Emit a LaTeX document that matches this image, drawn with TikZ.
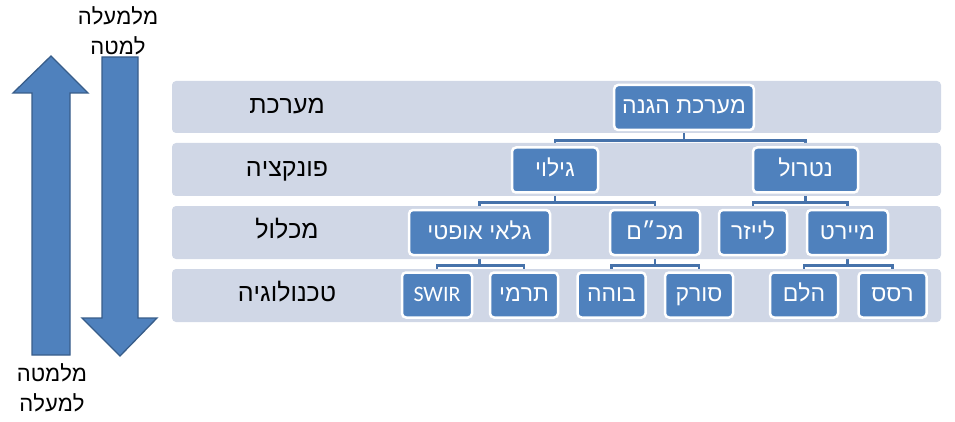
\documentclass[tikz,border=0pt]{standalone}
\usepackage{fontspec}
\setmainfont{Liberation Sans}
\newfontfamily\latinfont{Carlito}
\TeXXeTstate=1
\usetikzlibrary{backgrounds}
\definecolor{boxblue}{HTML}{4F81BD}
\definecolor{arrowedge}{HTML}{385D8A}
\definecolor{bandgrey}{HTML}{D0D7E6}
\definecolor{connblue}{HTML}{4672AA}
\tikzset{>=stealth,
    band/.style={fill=bandgrey, rounded corners=4pt},
    bandlabel/.style={font=\fontsize{25}{30}\selectfont, text height=16, text depth=3},
    box/.style={fill=boxblue, draw=white, line width=2.5pt, rounded corners=4pt,
        text=white, font=\fontsize{23}{27}\selectfont, text height=15, text depth=2,
        minimum height=45, minimum width=68, inner xsep=8},
    conn/.style={draw=connblue, line width=2.6pt},
    bigarrow/.style={fill=boxblue, draw=arrowedge, line width=1.3pt},
    sidetext/.style={font=\fontsize{22}{30}\selectfont, align=center}}
\newcommand{\heb}[1]{\beginR #1\endR}

\begin{document}
\begin{tikzpicture}[x=1pt, y=-1pt]
    \useasboundingbox (0,0) rectangle (955,422);
    \fill[band] (172,81) rectangle (941,133);
    \fill[band] (172,143) rectangle (941,196);
    \fill[band] (172,206) rectangle (941,259);
    \fill[band] (172,269) rectangle (941,322);
    \node[bandlabel] (lsys) at (287,107) {\heb{מערכת}};
    \node[bandlabel] (lfun) at (287,170) {\heb{פונקציה}};
    \node[bandlabel] (lunit) at (287,232) {\heb{מכלול}};
    \node[bandlabel] (ltech) at (287,295) {\heb{טכנולוגיה}};
    \draw[bigarrow] (32,355) -- (32,93) -- (13,93) -- (51,56) -- (88,93) -- (70,93) -- (70,355) -- cycle;
    \draw[bigarrow] (102,57) -- (138,57) -- (138,318) -- (157,318) -- (120,356) -- (82,318) -- (102,318) -- cycle;
    \node[sidetext] (topdown) at (118,31) {\heb{מלמעלה}\\\heb{למטה}};
    \node[sidetext] (bottomup) at (52,388) {\heb{מלמטה}\\\heb{למעלה}};
    \node[box, minimum width=138] (sys) at (684,107.5) {\heb{מערכת הגנה}};
    \node[box, minimum width=105] (neut) at (805.5,170) {\heb{נטרול}};
    \node[box, minimum width=86] (det) at (555,170) {\heb{גילוי}};
    \node[box, minimum width=90] (radar) at (655,232.5) {\heb{מכ״ם}};
    \node[box] (laser) at (753,232.5) {\heb{לייזר}};
    \node[box, minimum width=81] (intc) at (847.5,232.5) {\heb{מיירט}};
    \node[box, minimum width=141] (optic) at (479.5,232.5) {\heb{גלאי אופטי}};
    \node[box, minimum width=70, font=\latinfont\fontsize{22}{26}\selectfont] (swir) at (437,295) {SWIR};
    \node[box] (therm) at (524,295) {\heb{תרמי}};
    \node[box] (stare) at (611.5,295) {\heb{בוהה}};
    \node[box] (scan) at (699,295) {\heb{סורק}};
    \node[box] (blast) at (804,295) {\heb{הלם}};
    \node[box] (spray) at (892.5,295) {\heb{רסס}};
    \begin{scope}[on background layer]
        \foreach \p/\c in {sys/det, sys/neut, det/optic, det/radar, neut/laser, neut/intc,
            optic/swir, optic/therm, radar/stare, radar/scan, intc/blast, intc/spray}
            \draw[conn] (\p.south) -- ++(0,9) -| (\c.north);
    \end{scope}
\end{tikzpicture}
\end{document}
